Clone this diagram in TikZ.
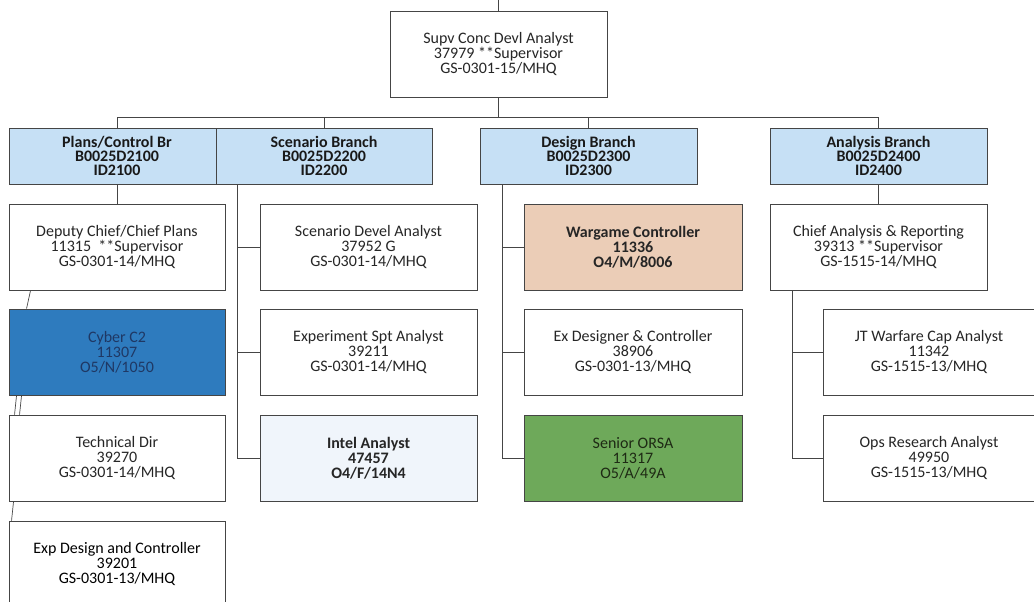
\documentclass[tikz,border=0pt]{standalone}
\usepackage{fontspec}
\setmainfont{Carlito}
\definecolor{hdr}{HTML}{C6E0F5}
\definecolor{cyb}{HTML}{2E7BBE}
\definecolor{cybtxt}{HTML}{1F3864}
\definecolor{peach}{HTML}{EBCDB7}
\definecolor{grn}{HTML}{6EA95A}
\definecolor{grntxt}{HTML}{1E2A14}
\definecolor{lite}{HTML}{F0F5FB}
\definecolor{edge}{HTML}{454545}
\begin{document}
\begin{tikzpicture}[x=1pt,y=-1pt,
  every node/.style={font=\fontsize{16}{15}\selectfont, align=center, inner sep=0pt},
  box/.style={draw=edge, line width=0.9pt, fill=white, minimum width=217pt, minimum height=86pt, text=black!85},
  hdrbox/.style={draw=edge, line width=0.9pt, fill=hdr, minimum height=56pt, font=\fontsize{16}{14}\selectfont\bfseries, text=black!90},
  conn/.style={draw=edge, line width=0.7pt}]
\useasboundingbox (0,0) rectangle (1034,602);
\clip (0,0) rectangle (1034,602);
% top
\node[box] (top) at (498.5,54) {Supv Conc Devl Analyst\\37979 **Supervisor\\GS-0301-15/MHQ};
\coordinate (topin) at (498.5,0);
% headers
\node[hdrbox, minimum width=216pt] (h1) at (117,156) {Plans/Control Br\\B0025D2100\\ID2100};
\node[hdrbox, minimum width=216pt] (h2) at (324,156) {Scenario Branch\\B0025D2200\\ID2200};
\node[hdrbox, minimum width=217pt] (h3) at (588.5,156) {Design Branch\\B0025D2300\\ID2300};
\node[hdrbox, minimum width=217pt] (h4) at (878.5,156) {Analysis Branch\\B0025D2400\\ID2400};
% plans column
\node[box, minimum width=216pt] (p1) at (117,247) {Deputy Chief/Chief Plans\\11315\ \ **Supervisor\\GS-0301-14/MHQ};
\node[box, minimum width=216pt, fill=cyb, text=cybtxt] (p2) at (117,352) {Cyber C2\\11307\\O5/N/1050};
\node[box, minimum width=216pt] (p3) at (117,458) {Technical Dir\\39270\\GS-0301-14/MHQ};
\node[box, minimum width=216pt, minimum height=100pt] (p4) at (117,571) {};
\node at (117,564) {Exp Design and Controller\\39201\\GS-0301-13/MHQ};
% scenario column
\node[box] (s1) at (368.5,247) {Scenario Devel Analyst\\37952 G\\GS-0301-14/MHQ};
\node[box] (s2) at (368.5,352) {Experiment Spt Analyst\\39211\\GS-0301-14/MHQ};
\node[box, fill=lite] (s3) at (368.5,458) {\textbf{Intel Analyst}\\\textbf{47457}\\\textbf{O4/F/14N4}};
% design column
\node[box, minimum width=218pt, fill=peach] (d1) at (633,247) {\textbf{Wargame Controller}\\\textbf{11336}\\\textbf{O4/M/8006}};
\node[box, minimum width=218pt] (d2) at (633,352) {Ex Designer \& Controller\\38906\\GS-0301-13/MHQ};
\node[box, minimum width=218pt, fill=grn, text=grntxt] (d3) at (633,458) {Senior ORSA\\11317\\O5/A/49A};
% analysis column
\node[box] (a1) at (878.5,247) {Chief Analysis \& Reporting\\39313 **Supervisor\\GS-1515-14/MHQ};
\node[box, minimum width=212pt] (a2) at (929,352) {JT Warfare Cap Analyst\\11342\\GS-1515-13/MHQ};
\node[box, minimum width=212pt] (a3) at (929,458) {Ops Research Analyst\\49950\\GS-1515-13/MHQ};
% connectors
\coordinate (bus) at (498.5,117);
\draw[conn] (topin) -- (top.north);
\draw[conn] (top.south) -- (bus);
\draw[conn] (h1.north) -- (117,117) -- (878.5,117);
\draw[conn] (324,117) -- (h2.north);
\draw[conn] (h3.north) -- (588.5,117);
\draw[conn] (h4.north) -- (878.5,117);
\draw[conn] (h1.south) -- (p1.north);
\draw[conn] ([xshift=22pt]p1.south west) -- ([xshift=18pt]p2.north west);
\draw[conn] ([xshift=8pt]p2.south west) -- ([xshift=6pt]p3.north west);
\draw[conn] ([xshift=13pt]p2.south west) -- ([xshift=11pt]p3.north west);
\draw[conn] ([xshift=5pt]p3.south west) -- ([xshift=3pt]p4.north west);
% scenario bus
\draw[conn] (237,184) |- (s3.west);
\draw[conn] (237,247) -- (s1.west);
\draw[conn] (237,352) -- (s2.west);
% design bus
\draw[conn] (502,184) |- (d3.west);
\draw[conn] (502,247) -- (d1.west);
\draw[conn] (502,352) -- (d2.west);
% analysis
\draw[conn] (h4.south) -- (a1.north);
\draw[conn] (792,290) |- (a3.west);
\draw[conn] (792,352) -- (a2.west);
\end{tikzpicture}
\end{document}
